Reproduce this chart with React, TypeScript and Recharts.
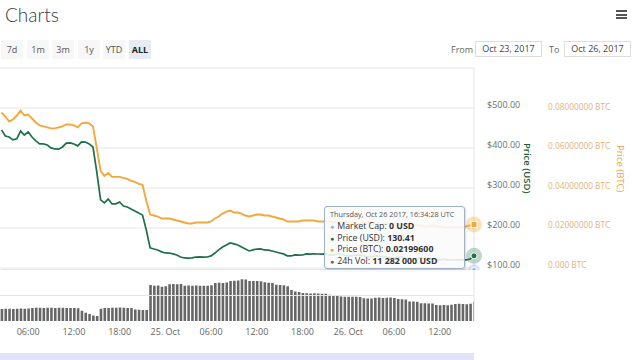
import React from 'react';
import {
  LineChart,
  Line,
  XAxis,
  YAxis,
  CartesianGrid,
  Tooltip,
  BarChart,
  Bar,
  ReferenceLine,
} from 'recharts';

// hours since Oct 24 2017 00:00 UTC for the first sample, and the sampling step
const START_HOUR = 2.5;
const STEP_HOURS = 0.5;

const priceUsd = [
  445.2, 430.1, 427.6, 420.3, 422.8, 442.4, 432.5, 440.1, 427.4, 417.6,
  410.2, 410.4, 407.5, 400.3, 397.6, 397.2, 402.6, 412.4, 412.7, 410.1,
  405.3, 415.2, 414.8, 410.2, 402.4, 340.0, 270.3, 262.6, 272.4, 260.1,
  260.4, 265.2, 255.1, 252.6, 247.4, 242.6, 237.3, 232.5, 195.0, 150.2,
  147.4, 145.1, 140.3, 137.6, 137.4, 135.2, 132.4, 127.6, 125.1, 124.8,
  125.2, 127.4, 127.6, 127.3, 127.5, 130.2, 137.4, 145.1, 152.6, 157.4,
  162.5, 160.2, 157.6, 152.4, 147.5, 142.6, 145.2, 147.4, 147.6, 145.1,
  144.8, 142.4, 140.1, 137.6, 135.2, 130.4, 130.1, 132.6, 132.4, 132.5,
  135.1, 134.8, 135.2, 135.0, 134.9, 135.1, 132.6, 132.4, 135.0, 134.8,
  132.5, 130.2, 130.1, 132.4, 132.6, 130.3, 127.6, 127.4, 130.1, 130.2,
  127.5, 127.3, 125.1, 124.9, 127.4, 127.6, 125.2, 125.0, 122.6, 122.4,
  125.1, 124.9, 122.5, 122.6, 120.2, 120.1, 122.4, 120.3, 120.1, 120.0,
  120.2, 120.1, 120.3, 122.6, 130.41,
];

const priceBtc = [
  0.0785, 0.0765, 0.074, 0.075, 0.077, 0.0795, 0.077, 0.0775, 0.0755, 0.0735,
  0.072, 0.0715, 0.071, 0.0705, 0.0705, 0.071, 0.0715, 0.0725, 0.0725, 0.072,
  0.071, 0.073, 0.0735, 0.073, 0.0715, 0.0605, 0.049, 0.0465, 0.048, 0.046,
  0.046, 0.046, 0.0455, 0.045, 0.044, 0.0435, 0.0425, 0.042, 0.034, 0.027,
  0.0265, 0.026, 0.025, 0.025, 0.025, 0.0245, 0.024, 0.0235, 0.023, 0.0225,
  0.0225, 0.023, 0.023, 0.023, 0.023, 0.0235, 0.025, 0.026, 0.0275, 0.0285,
  0.029, 0.028, 0.028, 0.0275, 0.0265, 0.026, 0.0265, 0.027, 0.027, 0.0265,
  0.0265, 0.026, 0.0255, 0.025, 0.0245, 0.0235, 0.0235, 0.0235, 0.0235, 0.024,
  0.024, 0.024, 0.024, 0.0235, 0.0235, 0.0235, 0.0235, 0.023, 0.023, 0.0235,
  0.0235, 0.023, 0.023, 0.0225, 0.0225, 0.023, 0.023, 0.0225, 0.0225, 0.022,
  0.022, 0.0225, 0.0225, 0.022, 0.022, 0.0215, 0.0215, 0.022, 0.022, 0.0215,
  0.0215, 0.021, 0.021, 0.0215, 0.021, 0.021, 0.0205, 0.0205, 0.0205, 0.0205,
  0.0205, 0.0205, 0.021, 0.0215, 0.021996,
];

// 24h volume, millions of USD
const volumeM = [
  7.1, 7.2, 7.2, 7.1, 7.2, 7.3, 7.2, 7.3, 7.7, 7.8,
  7.8, 7.7, 7.8, 7.8, 7.7, 7.8, 7.8, 7.6, 7.7, 7.6,
  7.5, 6.0, 4.9, 4.1, 3.2, 2.9, 7.2, 7.6, 7.7, 7.8,
  7.8, 7.9, 7.8, 7.7, 7.6, 6.8, 6.6, 6.5, 6.4, 21.2,
  20.8, 20.9, 20.2, 20.4, 21.6, 21.8, 21.6, 21.7, 20.8, 20.9,
  20.8, 20.9, 20.8, 20.7, 20.8, 21.0, 22.4, 22.5, 22.4, 22.6,
  23.6, 23.7, 23.8, 24.5, 24.4, 23.6, 23.5, 23.5, 23.4, 22.8,
  22.5, 22.3, 21.3, 21.2, 21.0, 20.5, 18.2, 17.3, 17.1, 16.4,
  16.3, 16.2, 16.3, 16.2, 16.1, 16.0, 15.4, 15.3, 15.2, 14.4,
  14.3, 14.3, 14.2, 14.3, 14.1, 13.4, 13.3, 13.3, 13.7, 13.8,
  13.6, 13.7, 13.8, 13.6, 12.9, 12.8, 12.6, 11.5, 11.4, 11.3,
  10.5, 10.4, 10.3, 10.3, 9.4, 9.3, 9.4, 9.3, 9.5, 10.0,
  10.1, 10.0, 9.9, 10.1, 11.282,
];

const MARKET_CAP = 0;

const xTicks = [6, 12, 18, 24, 30, 36, 42, 48, 54, 60];
const xTickLabels = ['06:00', '12:00', '18:00', '25. Oct', '06:00', '12:00', '18:00', '26. Oct', '06:00', '12:00'];
const usdTicks = [100, 200, 300, 400, 500];
const btcTicks = [0, 0.02, 0.04, 0.06, 0.08];
const rangeButtons = ['7d', '1m', '3m', '1y', 'YTD', 'ALL'];
const fromDate = 'Oct 23, 2017';
const toDate = 'Oct 26, 2017';
const lastTimestamp = 'Thursday, Oct 26 2017, 16:34:28 UTC';

const data = priceUsd.map((usd, i) => ({
  t: START_HOUR + i * STEP_HOURS,
  usd,
  btc: priceBtc[i],
  vol: volumeM[i],
  mc: MARKET_CAP,
}));

const X_DOMAIN: [number, number] = [2.3, 64.5];

const GREEN = '#1f7049';
const ORANGE = '#f2a83a';
const MC_BLUE = '#8fb7e0';
const FONT = "'Open Sans', sans-serif";

function UsdTick(props: any) {
  const { x, y, payload } = props;
  return (
    <text x={x + 13} y={y} dy={0} textAnchor="start" fontSize={9} fill="#66756f" fontFamily={FONT}>
      {'$' + Number(payload.value).toFixed(2)}
    </text>
  );
}

function BtcTick(props: any) {
  const { x, y, payload } = props;
  const v = Number(payload.value);
  const label = v === 0 ? '0.000 BTC' : v.toFixed(8) + ' BTC';
  return (
    <text x={x + 8} y={y} dy={0} textAnchor="start" fontSize={8.3} fill="#e2b27f" fontFamily={FONT}>
      {label}
    </text>
  );
}

function GreenDot(props: any) {
  const { cx, cy } = props;
  if (cx == null || cy == null) return null;
  return (
    <g>
      <circle cx={cx} cy={cy} r={8} fill={GREEN} fillOpacity={0.28} />
      <circle cx={cx} cy={cy} r={3} fill={GREEN} stroke="#fff" strokeWidth={1} />
    </g>
  );
}

function OrangeDot(props: any) {
  const { cx, cy } = props;
  if (cx == null || cy == null) return null;
  return (
    <g>
      <circle cx={cx} cy={cy} r={8} fill={ORANGE} fillOpacity={0.35} />
      <rect x={cx - 3} y={cy - 3} width={6} height={6} fill={ORANGE} stroke="#fff" strokeWidth={1} />
    </g>
  );
}

function BlueDot(props: any) {
  const { cx, cy } = props;
  if (cx == null || cy == null) return null;
  return (
    <g>
      <circle cx={cx} cy={cy} r={6} fill={MC_BLUE} fillOpacity={0.35} />
      <circle cx={cx} cy={cy} r={2.5} fill={MC_BLUE} stroke="#fff" strokeWidth={1} />
    </g>
  );
}

function fmtSpaces(n: number) {
  return String(Math.round(n)).replace(/\B(?=(\d{3})+(?!\d))/g, ' ');
}

function TipContent(props: any) {
  const { active, payload } = props;
  if (!active || !payload || !payload.length) return null;
  const p = payload[0].payload;
  const row = (color: string, name: string, value: string) => (
    <div style={{ height: 11.5, lineHeight: '11.5px', whiteSpace: 'nowrap', fontSize: 8.8 }}>
      <span style={{ color, fontSize: 7, marginRight: 3 }}>●</span>
      {name}: <b>{value}</b>
    </div>
  );
  return (
    <div
      style={{
        width: 141,
        height: 63,
        boxSizing: 'border-box',
        background: 'rgba(250,250,250,0.88)',
        border: '1px solid #9fb1c4',
        borderRadius: 3,
        boxShadow: '1px 1px 2px rgba(0,0,0,0.15)',
        padding: '2px 0 0 5px',
        fontFamily: FONT,
        color: '#333',
      }}
    >
      <div style={{ fontSize: 7.3, lineHeight: '11px', height: 12, color: '#555', whiteSpace: 'nowrap' }}>{lastTimestamp}</div>
      {row(MC_BLUE, 'Market Cap', fmtSpaces(p.mc) + ' USD')}
      {row(GREEN, 'Price (USD)', p.usd.toFixed(2))}
      {row('#e8a838', 'Price (BTC)', p.btc.toFixed(8))}
      {row('#666', '24h Vol', fmtSpaces(p.vol * 1e6) + ' USD')}
    </div>
  );
}

const btnCenters = [12, 38, 63, 89, 114, 140];

export default function App() {
  return (
    <div
      style={{
        position: 'absolute',
        left: 0,
        top: 0,
        width: 640,
        height: 360,
        background: '#fff',
        overflow: 'hidden',
        fontFamily: FONT,
      }}
    >
      <div style={{ position: 'absolute', left: 5, top: 3, fontFamily: 'Lato, sans-serif', fontSize: 19, color: '#3a3a3a', fontWeight: 300 }}>
        Charts
      </div>
      <div style={{ position: 'absolute', left: 616, top: 10 }}>
        {[0, 1, 2].map((k) => (
          <div key={k} style={{ width: 11, height: 2, background: '#555', marginBottom: 1.5 }} />
        ))}
      </div>

      {rangeButtons.map((b, i) => (
        <div
          key={b}
          style={{
            position: 'absolute',
            left: btnCenters[i] - 11,
            top: 40,
            width: 22,
            height: 19,
            lineHeight: '19px',
            textAlign: 'center',
            fontSize: 9,
            color: b === 'ALL' ? '#222' : '#555',
            fontWeight: b === 'ALL' ? 700 : 400,
            background: b === 'ALL' ? '#e6ebf5' : '#f7f7f7',
          }}
        >
          {b}
        </div>
      ))}

      <div style={{ position: 'absolute', left: 451, top: 43, fontSize: 9, color: '#666' }}>From</div>
      <div
        style={{
          position: 'absolute', left: 475, top: 41, width: 67, height: 16, boxSizing: 'border-box',
          border: '1px solid #ddd', fontSize: 9, color: '#444', textAlign: 'center', lineHeight: '14px',
        }}
      >
        {fromDate}
      </div>
      <div style={{ position: 'absolute', left: 549, top: 43, fontSize: 9, color: '#666' }}>To</div>
      <div
        style={{
          position: 'absolute', left: 564, top: 41, width: 67, height: 16, boxSizing: 'border-box',
          border: '1px solid #ddd', fontSize: 9, color: '#444', textAlign: 'center', lineHeight: '14px',
        }}
      >
        {toDate}
      </div>

      <div style={{ position: 'absolute', left: 0, top: 0 }}>
        <LineChart width={640} height={270} data={data} margin={{ top: 68, right: 0, bottom: 0, left: 0 }}>
          <CartesianGrid yAxisId="p1usd" vertical={false} stroke="#e6e6e6" />
          <XAxis dataKey="t" type="number" domain={X_DOMAIN} hide />
          <YAxis
            yAxisId="p2btc"
            orientation="right"
            width={100}
            domain={[-0.001, 0.101]}
            ticks={btcTicks}
            interval={0}
            tick={<BtcTick />}
            tickSize={0}
            tickMargin={0}
            tickLine={false}
            axisLine={false}
          />
          <YAxis
            yAxisId="p1usd"
            orientation="right"
            width={66}
            domain={[95, 600]}
            ticks={usdTicks}
            interval={0}
            tick={<UsdTick />}
            tickSize={0}
            tickMargin={0}
            tickLine={false}
            axisLine={{ stroke: '#dfe3ea' }}
          />
          <YAxis yAxisId="zmc" hide domain={[0, 1]} />
          <Line
            yAxisId="zmc"
            dataKey="mc"
            stroke="#cfd4dc"
            strokeWidth={1}
            dot={false}
            activeDot={<BlueDot />}
            isAnimationActive={false}
          />
          <Line
            yAxisId="p2btc"
            dataKey="btc"
            stroke={ORANGE}
            strokeWidth={1.9}
            dot={false}
            activeDot={<OrangeDot />}
            isAnimationActive={false}
          />
          <Line
            yAxisId="p1usd"
            dataKey="usd"
            stroke={GREEN}
            strokeWidth={1.7}
            dot={false}
            activeDot={<GreenDot />}
            isAnimationActive={false}
          />
          <Tooltip
            active
            defaultIndex={data.length - 1}
            position={{ x: 324, y: 206 }}
            cursor={false}
            content={<TipContent />}
            isAnimationActive={false}
            wrapperStyle={{ outline: 'none', zIndex: 5 }}
          />
        </LineChart>
      </div>

      <div style={{ position: 'absolute', left: 0, top: 270 }}>
        <BarChart width={640} height={90} data={data} margin={{ top: 0, right: 0, bottom: 19, left: 0 }}>
          <XAxis
            dataKey="t"
            type="number"
            domain={X_DOMAIN}
            allowDataOverflow
            ticks={xTicks}
            interval={0}
            tickFormatter={(v: number) => xTickLabels[xTicks.indexOf(v)] ?? ''}
            tick={{ fontSize: 9, fill: '#666', fontFamily: FONT }}
            tickLine={false}
            axisLine={false}
            height={20}
          />
          <YAxis yAxisId="vol" hide domain={[0, 30]} />
          <YAxis
            yAxisId="edge"
            orientation="right"
            width={166}
            domain={[0, 30]}
            tick={false}
            tickLine={false}
            axisLine={{ stroke: '#dfe3ea' }}
          />
          <ReferenceLine yAxisId="vol" y={15} stroke="#e6e6e6" />
          <Bar yAxisId="vol" dataKey="vol" fill="#666666" barSize={2.6} isAnimationActive={false} />
        </BarChart>
      </div>

      <div
        style={{
          position: 'absolute', left: 521, top: 143, writingMode: 'vertical-rl', fontSize: 9.5,
          color: '#1e5a3a', fontWeight: 600, whiteSpace: 'nowrap',
        }}
      >
        Price (USD)
      </div>
      <div
        style={{
          position: 'absolute', left: 614, top: 145, writingMode: 'vertical-rl', fontSize: 9.5,
          color: '#eba23e', whiteSpace: 'nowrap',
        }}
      >
        Price (BTC)
      </div>

      <div style={{ position: 'absolute', left: 0, top: 353, width: 474, height: 7, background: '#e1e3f7' }} />
    </div>
  );
}
